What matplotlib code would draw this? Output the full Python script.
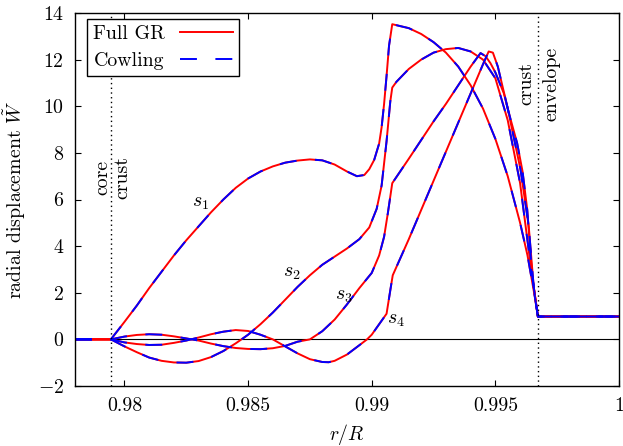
import matplotlib
matplotlib.use("Agg")
import matplotlib.pyplot as plt
import numpy as np

plt.rcParams['font.family'] = 'cmr10'
plt.rcParams['mathtext.fontset'] = 'cm'
plt.rcParams['axes.formatter.use_mathtext'] = True

# radial displacement for the four modes
x_s1 = [0.978, 0.97945, 0.9800, 0.9805, 0.9810, 0.9815, 0.9820, 0.9825, 0.9830, 0.9835,
        0.9840, 0.9845, 0.9850, 0.9855, 0.9860, 0.9865, 0.9870, 0.9875, 0.9880, 0.9885,
        0.9890, 0.9894, 0.9897, 0.9899, 0.9901, 0.9903, 0.9904, 0.9905, 0.9906, 0.9907,
        0.99083, 0.9915, 0.9920, 0.9925, 0.9930, 0.9935, 0.9940, 0.9945, 0.9950, 0.9955,
        0.9960, 0.9963, 0.9966, 0.99672, 1.0]
y_s1 = [0.0, 0.0, 0.75, 1.45, 2.2, 2.9, 3.6, 4.25, 4.85, 5.45,
        6.0, 6.5, 6.9, 7.2, 7.42, 7.58, 7.67, 7.72, 7.68, 7.5,
        7.2, 7.0, 7.05, 7.3, 7.7, 8.4, 9.1, 10.1, 11.3, 12.6,
        13.52, 13.35, 13.1, 12.75, 12.3, 11.7, 10.9, 9.9, 8.6, 7.0,
        5.0, 3.6, 1.8, 0.98, 0.98]

x_s2 = [0.978, 0.97945, 0.9800, 0.9805, 0.9810, 0.9815, 0.9820, 0.9825, 0.9830, 0.9835,
        0.9840, 0.9845, 0.9848, 0.9850, 0.9855, 0.9860, 0.9865, 0.9870, 0.9875, 0.9880,
        0.9885, 0.9890, 0.9895, 0.9899, 0.9902, 0.9904, 0.9906, 0.99075, 0.99083, 0.9910,
        0.9915, 0.9920, 0.9925, 0.9930, 0.9935, 0.9940, 0.9945, 0.9950, 0.9955, 0.9960,
        0.9964, 0.99672, 1.0]
y_s2 = [0.0, 0.0, -0.3, -0.55, -0.78, -0.92, -0.99, -1.0, -0.93, -0.76,
        -0.5, -0.17, 0.05, 0.2, 0.65, 1.15, 1.7, 2.25, 2.75, 3.2,
        3.55, 3.9, 4.3, 4.8, 5.6, 6.6, 8.5, 10.2, 10.8, 11.05,
        11.6, 12.0, 12.3, 12.45, 12.5, 12.35, 12.0, 11.2, 9.4, 6.7,
        3.4, 0.98, 0.98]

x_s3 = [0.978, 0.97945, 0.9800, 0.9805, 0.9810, 0.9815, 0.9820, 0.9825, 0.9830, 0.9835,
        0.9840, 0.9845, 0.9850, 0.9855, 0.9860, 0.9865, 0.9870, 0.9875, 0.9880, 0.9885,
        0.9890, 0.9895, 0.9900, 0.9903, 0.9905, 0.99065, 0.99083, 0.9915, 0.9920, 0.9925,
        0.9930, 0.9935, 0.9940, 0.9944, 0.9946, 0.9948, 0.9950, 0.99534, 0.9956, 0.99588,
        0.9961, 0.99629, 0.99649, 0.99672, 1.0]
y_s3 = [0.0, 0.0, 0.12, 0.19, 0.22, 0.2, 0.13, 0.04, -0.05, -0.18,
        -0.29, -0.37, -0.41, -0.42, -0.38, -0.28, -0.1, 0.0, 0.35, 0.85,
        1.5, 2.2, 2.85, 3.6, 4.4, 5.4, 6.7, 7.75, 8.55, 9.35,
        10.1, 10.9, 11.7, 12.28, 12.15, 11.85, 11.45, 10.56, 9.5, 8.42,
        7.2, 5.55, 2.7, 0.98, 0.98]

x_s4 = [0.978, 0.97945, 0.9800, 0.9805, 0.9810, 0.9815, 0.9820, 0.9825, 0.9830, 0.9835,
        0.9840, 0.9845, 0.9850, 0.9855, 0.9860, 0.9865, 0.9870, 0.9875, 0.9880, 0.98826,
        0.9885, 0.9890, 0.9895, 0.98981, 0.9900, 0.9903, 0.9906, 0.99075, 0.99085, 0.9915,
        0.9920, 0.9925, 0.9930, 0.9935, 0.9940, 0.9945, 0.99473, 0.9949, 0.9951, 0.99548,
        0.99602, 0.99635, 0.99655, 0.99672, 1.0]
y_s4 = [0.0, 0.0, -0.13, -0.2, -0.24, -0.23, -0.15, -0.05, 0.08, 0.22,
        0.33, 0.4, 0.36, 0.2, 0.0, -0.3, -0.6, -0.85, -0.97, -0.98,
        -0.92, -0.65, -0.25, 0.0, 0.2, 0.65, 1.1, 2.1, 2.75, 4.3,
        5.55, 6.8, 8.05, 9.3, 10.55, 11.8, 12.35, 12.3, 11.7, 10.0,
        7.27, 4.84, 2.26, 0.98, 0.98]

modes = [(x_s1, y_s1), (x_s2, y_s2), (x_s3, y_s3), (x_s4, y_s4)]
mode_labels = ['$s_1$', '$s_2$', '$s_3$', '$s_4$']
label_pos = [(0.98306, 5.85), (0.98677, 2.86), (0.98886, 1.86), (0.99098, 0.85)]

r_core = 0.97945
r_env = 0.99672

fig = plt.figure(figsize=(6.23, 4.46), dpi=100)
ax = fig.add_axes([75/623, 1 - 386/446, 544/623, 373/446])

fs = 14.3
ax.axhline(0, color='black', lw=0.8)
for xv, yv in modes:
    gr, = ax.plot(xv, yv, color='red', lw=1.4)
for xv, yv in modes:
    cow, = ax.plot(xv, yv, color='blue', lw=1.4, dashes=(8.7, 9.5))

ax.axvline(r_core, color='black', lw=1.0, ls=(0, (1.0, 2.4)))
ax.axvline(r_env, color='black', lw=1.0, ls=(0, (1.0, 2.4)))

ax.text(0.97909, 6.95, 'core', rotation=90, ha='center', va='center', fontsize=fs)
ax.text(0.97990, 6.95, 'crust', rotation=90, ha='center', va='center', fontsize=fs)
ax.text(0.99626, 10.96, 'crust', rotation=90, ha='center', va='center', fontsize=fs)
ax.text(0.99727, 10.96, 'envelope', rotation=90, ha='center', va='center', fontsize=fs)

for lab, (lx, ly) in zip(mode_labels, label_pos):
    ax.text(lx, ly, lab, ha='center', va='center', fontsize=fs)

ax.set_xlim(0.978, 1.0)
ax.set_ylim(-2, 14)
ax.set_xticks([0.98, 0.985, 0.99, 0.995, 1.0])
ax.set_xticklabels(['0.98', '0.985', '0.99', '0.995', '1'])
yt = np.arange(-2, 15, 2)
ax.set_yticks(yt)
ax.set_yticklabels(['$%d$' % v for v in yt])
ax.tick_params(direction='in', top=True, right=True, length=4.5, width=0.8,
               labelsize=fs, pad=8)
for s in ax.spines.values():
    s.set_linewidth(1.0)

ax.set_xlabel('$r/R$', fontsize=fs, labelpad=5)
ax.set_ylabel(r'radial displacement $\tilde{W}$', fontsize=fs, labelpad=7)

leg = ax.legend([gr, cow], ['Full GR', 'Cowling'], loc='upper left',
                bbox_to_anchor=(12/544, 1 - 6/373), borderaxespad=0,
                markerfirst=False, handlelength=2.7, handletextpad=0.75,
                fancybox=False, edgecolor='black', framealpha=1,
                fontsize=fs, labelspacing=0.45, borderpad=0.3)
leg.get_frame().set_linewidth(1.0)

fig.savefig('out.png', dpi=100)
